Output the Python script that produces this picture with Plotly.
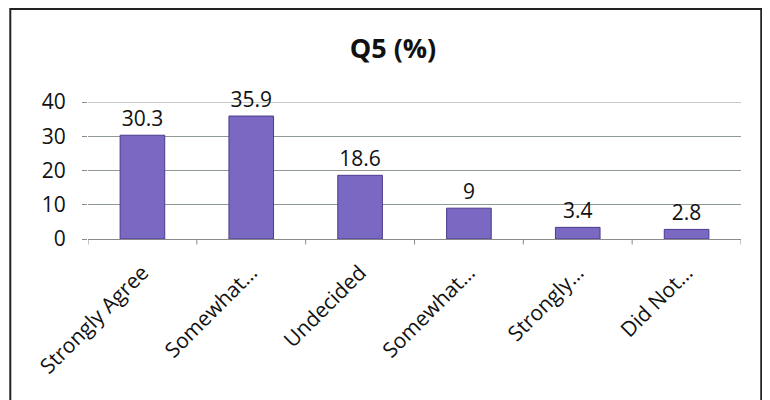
import plotly.graph_objects as go

categories = ["Strongly Agree", "Somewhat…", "Undecided", "Somewhat…", "Strongly…", "Did Not…"]
values = [30.3, 35.9, 18.6, 9, 3.4, 2.8]
labels = ["30.3", "35.9", "18.6", "9", "3.4", "2.8"]
yticks = [0, 10, 20, 30, 40]

x_idx = list(range(len(categories)))

fig = go.Figure()
fig.add_trace(go.Bar(
    x=x_idx, y=values, text=labels, textposition="outside",
    textfont=dict(size=21, color="#111111"),
    marker=dict(color="#7a68c2", line=dict(color="#4a3c8c", width=1)),
    width=0.41, cliponaxis=False,
))
fig.update_layout(
    width=770, height=400,
    margin=dict(l=80, r=37, t=94, b=169),
    paper_bgcolor="white", plot_bgcolor="white",
    font=dict(family="Open Sans, Liberation Sans, sans-serif", color="#111111"),
    title=dict(text="<b>Q5 (%)</b>", x=0.5, xanchor="center", y=0.8975, yanchor="middle",
               font=dict(size=27, color="#111111")),
    showlegend=False,
)
fig.update_xaxes(
    tickmode="array", tickvals=x_idx, ticktext=categories, tickangle=-45,
    tickfont=dict(size=21, weight=500), range=[-0.5, len(categories) - 0.5],
    showline=True, linecolor="#8a8a8a", linewidth=1, ticklabelstandoff=12,
    ticks="", showgrid=False, zeroline=False,
)
for i in range(len(categories) + 1):
    fig.add_shape(type="line", xref="x", yref="paper", x0=i - 0.5, x1=i - 0.5, y0=0, y1=-0.04,
                  line=dict(color="#8a8a8a", width=1))
fig.add_shape(type="line", xref="paper", yref="y", x0=0, x1=1, y0=yticks[-1], y1=yticks[-1],
              line=dict(color="#8f9a94", width=1), layer="below")
fig.update_yaxes(
    range=[0, 40], tickvals=yticks, tickfont=dict(size=21),
    showgrid=True, gridcolor="#8f9a94", gridwidth=1,
    ticks="outside", ticklen=5, tickcolor="#8a8a8a", ticklabelstandoff=12,
    showline=False, zeroline=False,
)
fig.add_shape(type="rect", xref="paper", yref="paper",
              x0=-0.119, x1=1.031, y0=-1.35, y1=1.679,
              line=dict(color="#222222", width=2), fillcolor="rgba(0,0,0,0)", layer="below")
fig.write_html("out.html")
